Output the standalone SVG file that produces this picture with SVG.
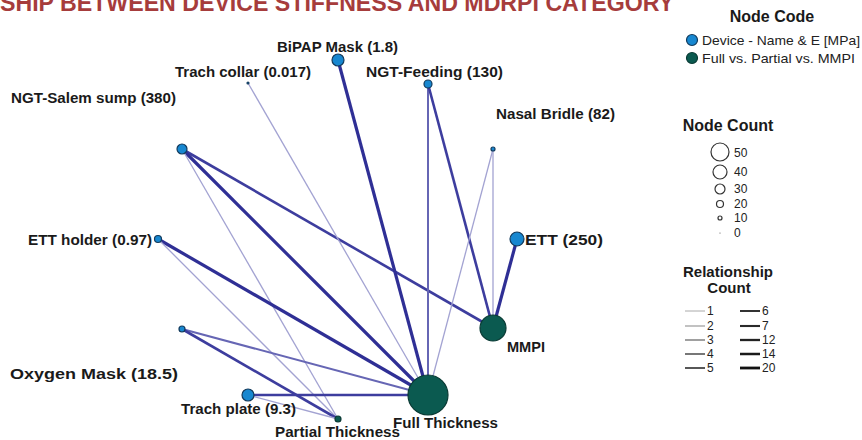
<svg xmlns="http://www.w3.org/2000/svg" width="862" height="440" viewBox="0 0 862 440">
<style>
.t{font-family:"Liberation Sans",Arial,sans-serif;font-weight:bold;fill:#1a1a1a}
.lab{font-size:14.5px}
.leg{font-family:"Liberation Sans",Arial,sans-serif;fill:#222;font-size:13px}
.num{font-family:"Liberation Sans",Arial,sans-serif;fill:#222;font-size:12px}
.dev{fill:#1787d0;stroke:#123a5c;stroke-width:1.2}
.cat{fill:#0b5a50;stroke:#0a3a34;stroke-width:1.2}
.e1{stroke:#a3a3d2;stroke-width:1.3;fill:none}
.e2{stroke:#6666b4;stroke-width:2;fill:none}
.e3{stroke:#3d3d9e;stroke-width:2.6;fill:none}
.e4{stroke:#2f2f95;stroke-width:3.2;fill:none}
</style>
<text x="0" y="11" style="font-family:'Liberation Sans',Arial,sans-serif;font-weight:bold;font-size:24px;fill:#a63c3c" textLength="674" lengthAdjust="spacingAndGlyphs">SHIP BETWEEN DEVICE STIFFNESS  AND MDRPI CATEGORY</text>
<g id="connectors">
<line class="e3" x1="182" y1="149" x2="493" y2="328"/>
<line class="e4" x1="182" y1="149" x2="428" y2="395"/>
<line class="e1" x1="182" y1="149" x2="338" y2="419"/>
<line class="e4" x1="158" y1="239" x2="428" y2="395"/>
<line class="e1" x1="158" y1="239" x2="338" y2="419"/>
<line class="e2" x1="182" y1="329" x2="428" y2="395"/>
<line class="e3" x1="182" y1="329" x2="338" y2="419"/>
<line class="e3" x1="248" y1="395" x2="428" y2="395"/>
<line class="e1" x1="248" y1="395" x2="338" y2="419"/>
<line class="e1" x1="248" y1="83" x2="428" y2="395"/>
<line class="e4" x1="338" y1="60" x2="428" y2="395"/>
<line class="e2" x1="428" y1="84" x2="428" y2="395"/>
<line class="e3" x1="428" y1="84" x2="493" y2="328"/>
<line class="e1" x1="493" y1="149" x2="428" y2="395"/>
<line class="e1" x1="493" y1="149" x2="493" y2="328"/>
<line class="e4" x1="517" y1="239" x2="493" y2="328"/>
</g>
<g id="n-bipap"><circle class="dev" cx="338" cy="60" r="6"/><text class="t lab" x="277" y="52" textLength="121" lengthAdjust="spacingAndGlyphs">BiPAP Mask (1.8)</text></g>
<g id="n-trachcollar"><circle class="dev" cx="248" cy="83" r="1"/><text class="t lab" x="175" y="77" textLength="136" lengthAdjust="spacingAndGlyphs">Trach collar (0.017)</text></g>
<g id="n-ngtfeeding"><circle class="dev" cx="428" cy="84" r="4"/><text class="t lab" x="366" y="77" textLength="137" lengthAdjust="spacingAndGlyphs">NGT-Feeding (130)</text></g>
<g id="n-ngtsalem"><circle class="dev" cx="182" cy="149" r="5"/><text class="t lab" x="11" y="103" textLength="165" lengthAdjust="spacingAndGlyphs">NGT-Salem sump (380)</text></g>
<g id="n-nasal"><circle class="dev" cx="493" cy="149" r="2"/><text class="t lab" x="496" y="119" textLength="119" lengthAdjust="spacingAndGlyphs">Nasal Bridle (82)</text></g>
<g id="n-ettholder"><circle class="dev" cx="158" cy="239" r="3.5"/><text class="t lab" x="28" y="245" textLength="124" lengthAdjust="spacingAndGlyphs">ETT holder (0.97)</text></g>
<g id="n-ett"><circle class="dev" cx="517" cy="239" r="7"/><text class="t lab" x="525" y="245" textLength="78" lengthAdjust="spacingAndGlyphs">ETT (250)</text></g>
<g id="n-oxygen"><circle class="dev" cx="182" cy="329" r="3"/><text class="t lab" x="10" y="379" textLength="168" lengthAdjust="spacingAndGlyphs">Oxygen Mask (18.5)</text></g>
<g id="n-trachplate"><circle class="dev" cx="248" cy="395" r="6"/><text class="t lab" x="181" y="414" textLength="115" lengthAdjust="spacingAndGlyphs">Trach plate (9.3)</text></g>
<g id="n-mmpi"><circle class="cat" cx="493" cy="328" r="13"/><text class="t lab" x="507" y="352" textLength="38" lengthAdjust="spacingAndGlyphs">MMPI</text></g>
<g id="n-partial"><circle class="cat" cx="338" cy="419" r="3"/><text class="t lab" x="275" y="437" textLength="125" lengthAdjust="spacingAndGlyphs">Partial Thickness</text></g>
<g id="n-full"><circle class="cat" cx="428" cy="395" r="20"/><text class="t lab" x="393" y="428" textLength="105" lengthAdjust="spacingAndGlyphs">Full Thickness</text></g>
<g id="legend">
<text class="t" x="772" y="22" text-anchor="middle" font-size="16">Node Code</text>
<circle class="dev" cx="692" cy="40" r="5.5"/>
<text class="leg" x="702" y="45" textLength="158" lengthAdjust="spacingAndGlyphs">Device -  Name &amp; E [MPa]</text>
<circle class="cat" cx="692" cy="58" r="5.5"/>
<text class="leg" x="702" y="63" textLength="153" lengthAdjust="spacingAndGlyphs">Full vs. Partial vs. MMPI</text>
<text class="t" x="728" y="131" text-anchor="middle" font-size="16">Node Count</text>
<g fill="none" stroke="#333" stroke-width="1.2">
<circle cx="720" cy="152" r="9"/>
<circle cx="720" cy="172" r="7"/>
<circle cx="720" cy="189" r="5"/>
<circle cx="720" cy="204" r="3.5"/>
<circle cx="720" cy="218" r="2"/>
</g>
<circle cx="720" cy="233" r="0.6" fill="#555"/>
<text class="num" x="734" y="157">50</text>
<text class="num" x="734" y="176">40</text>
<text class="num" x="734" y="193">30</text>
<text class="num" x="734" y="208">20</text>
<text class="num" x="734" y="222">10</text>
<text class="num" x="734" y="237">0</text>
<text class="t" x="728" y="277" text-anchor="middle" font-size="15">Relationship</text>
<text class="t" x="729" y="293" text-anchor="middle" font-size="15">Count</text>
<g fill="none">
<line x1="685" y1="311" x2="705" y2="311" stroke="#aaa" stroke-width="1"/>
<line x1="685" y1="326" x2="705" y2="326" stroke="#999" stroke-width="1.2"/>
<line x1="685" y1="340" x2="705" y2="340" stroke="#777" stroke-width="1.4"/>
<line x1="685" y1="354" x2="705" y2="354" stroke="#555" stroke-width="1.6"/>
<line x1="685" y1="368" x2="705" y2="368" stroke="#444" stroke-width="1.8"/>
<line x1="740" y1="311" x2="760" y2="311" stroke="#333" stroke-width="2"/>
<line x1="740" y1="326" x2="760" y2="326" stroke="#2a2a2a" stroke-width="2.1"/>
<line x1="740" y1="340" x2="760" y2="340" stroke="#222" stroke-width="2.3"/>
<line x1="740" y1="354" x2="760" y2="354" stroke="#1a1a1a" stroke-width="2.5"/>
<line x1="740" y1="368" x2="760" y2="368" stroke="#111" stroke-width="2.8"/>
</g>
<text class="num" x="707" y="315">1</text>
<text class="num" x="707" y="330">2</text>
<text class="num" x="707" y="344">3</text>
<text class="num" x="707" y="358">4</text>
<text class="num" x="707" y="372">5</text>
<text class="num" x="762" y="315">6</text>
<text class="num" x="762" y="330">7</text>
<text class="num" x="762" y="344">12</text>
<text class="num" x="762" y="358">14</text>
<text class="num" x="762" y="372">20</text>
</g>
</svg>
